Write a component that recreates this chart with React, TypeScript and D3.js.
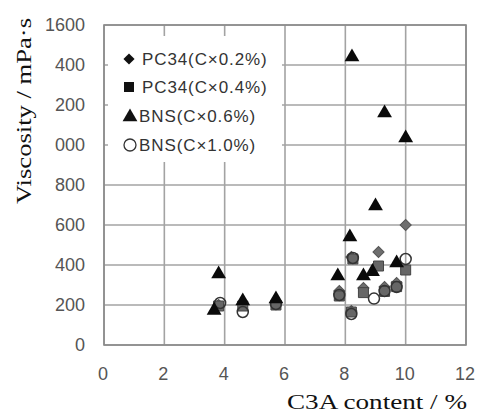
import React from "react";
import * as d3 from "d3";

const xTicks = [0, 2, 4, 6, 8, 10, 12];
const yTicks = [0, 200, 400, 600, 800, 1000, 1200, 1400, 1600];
const yTickLabels = ["0", "200", "400", "600", "800", "000", "200", "400", "1600"];

const seriesNames = ["PC34(C×0.2%)", "PC34(C×0.4%)", "BNS(C×0.6%)", "BNS(C×1.0%)"];

// PC34 0.2% (diamond)
const pc02X = [3.8, 4.6, 5.7, 7.8, 8.2, 8.2, 8.6, 9.1, 9.3, 9.7, 10.0];
const pc02Y = [200, 205, 210, 270, 440, 170, 285, 465, 290, 310, 600];
// PC34 0.4% (square)
const pc04X = [3.8, 4.6, 5.7, 7.8, 8.25, 8.2, 8.6, 9.1, 9.3, 9.7, 10.0];
const pc04Y = [195, 195, 200, 245, 430, 165, 262, 395, 268, 292, 375];
// BNS 0.6% (triangle)
const bns06X = [3.65, 3.8, 4.6, 5.7, 7.75, 8.15, 8.22, 8.6, 8.9, 9.0, 9.3, 9.7, 10.0];
const bns06Y = [178, 360, 225, 235, 350, 545, 1445, 350, 372, 700, 1165, 415, 1040];
// BNS 1.0% (circle)
const bns10X = [3.85, 4.6, 5.7, 7.8, 8.2, 8.25, 8.95, 9.3, 9.7, 10.0];
const bns10Y = [210, 165, 205, 250, 155, 435, 232, 270, 290, 430];

const W = 478;
const H = 413;

export default function App() {
  const x = d3.scaleLinear().domain([0, 12]).range([104, 466]);
  const y = d3.scaleLinear().domain([0, 1600]).range([345, 25]);

  const tri = d3.symbol().type(d3.symbolTriangle).size(95)() as string;
  const sq = d3.symbol().type(d3.symbolSquare).size(100)() as string;
  const dia = d3.symbol().type(d3.symbolSquare).size(62)() as string;

  const gridColor = "#a3a3a3";
  const tickFont = "'Liberation Sans Narrow', 'Arial Narrow', 'Liberation Sans', sans-serif";

  const legendY = [59, 87, 116, 145];

  return (
    <svg
      width={W}
      height={H}
      style={{ position: "fixed", left: 0, top: 0, background: "#fff" }}
    >
      <rect x={0} y={0} width={W} height={H} fill="#fff" />
      {/* grid */}
      {yTicks.map((t) => (
        <line key={"h" + t} x1={x(0)} x2={x(12)} y1={y(t)} y2={y(t)} stroke={gridColor} strokeWidth={1.6} />
      ))}
      {xTicks.map((t) => (
        <line key={"v" + t} x1={x(t)} x2={x(t)} y1={y(0)} y2={y(1600)} stroke={gridColor} strokeWidth={1.6} />
      ))}
      <rect x={x(0)} y={y(1600)} width={x(12) - x(0)} height={y(0) - y(1600)} fill="none" stroke="#8a8a8a" strokeWidth={1.6} />

      {/* y tick labels */}
      {yTicks.map((t, i) => (
        <text key={"yl" + t} x={85} y={y(t)} dy="0.36em" textAnchor="end" fontFamily={tickFont} fontSize={18} fill="#555">
          {yTickLabels[i]}
        </text>
      ))}
      {/* x tick labels */}
      {xTicks.map((t) => (
        <text key={"xl" + t} x={x(t) - 1} y={374} dy="0.36em" textAnchor="middle" fontFamily={tickFont} fontSize={18} fill="#555">
          {t}
        </text>
      ))}

      {/* axis titles */}
      <text
        transform={`translate(31,111) rotate(-90)`}
        textAnchor="middle"
        fontFamily="'Liberation Serif', 'DejaVu Serif', serif"
        fontSize={22}
        fill="#111"
        textLength={186}
        lengthAdjust="spacingAndGlyphs"
      >
        Viscosity / mPa·s
      </text>
      <text
        x={467}
        y={409}
        textAnchor="end"
        fontFamily="'Liberation Serif', 'DejaVu Serif', serif"
        fontSize={22}
        fill="#111"
        textLength={180}
        lengthAdjust="spacingAndGlyphs"
      >
        C3A content / %
      </text>

      {/* data */}
      {pc02X.map((v, i) => (
        <path key={"d" + i} d={dia} transform={`translate(${x(v)},${y(pc02Y[i])}) rotate(45)`} fill="#6e6e6e" stroke="#555" strokeWidth={1} />
      ))}
      {pc04X.map((v, i) => (
        <path key={"s" + i} d={sq} transform={`translate(${x(v)},${y(pc04Y[i])})`} fill="#666" stroke="#444" strokeWidth={1} />
      ))}
      {bns10X.map((v, i) => (
        <circle key={"c" + i} cx={x(v)} cy={y(bns10Y[i])} r={5.5} fill="none" stroke="#333" strokeWidth={1.5} />
      ))}
      {bns06X.map((v, i) => (
        <path key={"t" + i} d={tri} transform={`translate(${x(v)},${y(bns06Y[i]) + 1})`} fill="#0a0a0a" />
      ))}

      {/* legend */}
      <rect x={108} y={36} width={174} height={126} fill="#fff" />
      <path d={dia} transform={`translate(129,${legendY[0]}) rotate(45)`} fill="#111" />
      <path d={sq} transform={`translate(129,${legendY[1]})`} fill="#111" />
      <path d={tri} transform={`translate(130,${legendY[2] + 1})`} fill="#111" />
      <circle cx={130} cy={legendY[3]} r={6} fill="#fff" stroke="#333" strokeWidth={1.3} />
      {seriesNames.map((n, i) => (
        <text key={n} x={i < 2 ? 142 : 139} y={legendY[i]} dy="0.36em" fontFamily="'Liberation Sans', Arial, sans-serif" fontSize={17} fill="#333" letterSpacing={0.9}>
          {n}
        </text>
      ))}
    </svg>
  );
}
